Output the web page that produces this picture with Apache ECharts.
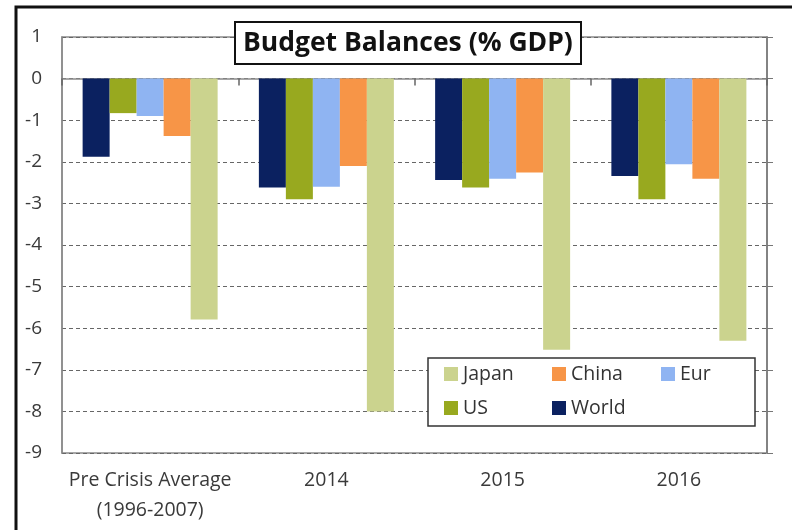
<!DOCTYPE html>
<html>
<head>
<meta charset="utf-8">
<script src="https://cdn.jsdelivr.net/npm/echarts@6/dist/echarts.min.js"></script>
<style>html,body{margin:0;padding:0;background:#fff}#c{width:792px;height:530px}</style>
</head>
<body>
<div id="c"></div>
<script>
const categories = ['Pre Crisis Average\n(1996-2007)', '2014', '2015', '2016'];
const world = [-1.88, -2.62, -2.44, -2.34];
const us = [-0.83, -2.9, -2.62, -2.9];
const eur = [-0.9, -2.6, -2.41, -2.06];
const china = [-1.38, -2.1, -2.26, -2.41];
const japan = [-5.79, -8.0, -6.52, -6.3];
const yTicks = { min: -9, max: 1, interval: 1 };

const FONT = '"Open Sans", Lato, sans-serif';
const colors = { World: '#0b2160', US: '#98a91f', Eur: '#8fb4f2', China: '#f79547', Japan: '#cbd38e' };

const chart = echarts.init(document.getElementById('c'));
function mkSeries(name, data) {
  return { name, type: 'bar', data, barWidth: 27, barGap: '0%', itemStyle: { color: colors[name] }, xAxisIndex: 0, yAxisIndex: 0, z: 2 };
}
const legendPos = [['Japan', 444, 364], ['China', 552, 364], ['Eur', 661, 364], ['US', 444, 398], ['World', 552, 398]];
const gridBox = { left: 62, right: 25, top: 37, bottom: 77, containLabel: false, outerBoundsMode: 'none' };
chart.setOption({
  animation: false,
  backgroundColor: '#fff',
  title: {
    text: 'Budget Balances (% GDP)',
    left: 235, top: 22,
    backgroundColor: '#fff', borderColor: '#111', borderWidth: 2,
    padding: [8, 8, 7, 8],
    textStyle: { fontFamily: FONT, fontSize: 26.5, fontWeight: 'bold', color: '#111' },
    z: 20
  },
  grid: [
    Object.assign({ show: true, borderColor: '#8a8a8a', borderWidth: 1.5 }, gridBox),
    Object.assign({ show: false }, gridBox)
  ],
  xAxis: [
    { type: 'category', data: categories, gridIndex: 0, position: 'bottom',
      axisLine: { show: true, onZero: true, lineStyle: { color: '#8a8a8a', width: 1.5 } },
      axisTick: { show: true, inside: false, interval: 0, length: 7, lineStyle: { color: '#666', width: 1.5 } },
      axisLabel: { show: true, interval: 0, formatter: function () { return ''; } } },
    { type: 'category', data: categories, gridIndex: 1, position: 'bottom',
      axisLine: { show: false, onZero: false }, axisTick: { show: false },
      axisLabel: { interval: 0, fontFamily: FONT, fontSize: 19.5, color: '#3a3a3a', margin: 12, lineHeight: 30 } }
  ],
  yAxis: [
    { type: 'value', gridIndex: 0, min: yTicks.min, max: yTicks.max, interval: yTicks.interval, position: 'left',
      axisLine: { show: true, lineStyle: { color: '#8a8a8a', width: 1.5 } }, axisTick: { show: false },
      axisLabel: { fontFamily: FONT, fontSize: 19, color: '#3a3a3a', margin: 20 },
      splitLine: { show: true, lineStyle: { color: '#666', type: [4, 3], width: 1.2 } } },
    { type: 'value', gridIndex: 0, min: yTicks.min, max: yTicks.max, interval: yTicks.interval, position: 'right',
      axisLine: { show: true, lineStyle: { color: '#777', width: 1.5 } },
      axisTick: { show: true, length: 6, lineStyle: { color: '#777' } },
      axisLabel: { show: false }, splitLine: { show: false } },
    { type: 'value', gridIndex: 1, min: yTicks.min, max: yTicks.max, interval: yTicks.interval, show: false,
      splitLine: { show: false } }
  ],
  legend: legendPos.map(([n, l, t]) => ({
    data: [n], left: l, top: t, itemWidth: 14, itemHeight: 14, itemGap: 5, padding: 0,
    icon: 'rect', z: 12,
    textStyle: { fontFamily: FONT, fontSize: 19.5, color: '#333', padding: [0, 0, 0, 0] }
  })),
  graphic: [
    { type: 'rect', shape: { x: 428, y: 358, width: 327, height: 68 }, style: { fill: '#fff', stroke: '#333', lineWidth: 1.5 }, z: 10 },
    { type: 'rect', shape: { x: 16, y: 7, width: 800, height: 540 }, style: { fill: 'none', stroke: '#111', lineWidth: 3 }, z: 30 }
  ],
  series: [mkSeries('World', world), mkSeries('US', us), mkSeries('Eur', eur), mkSeries('China', china), mkSeries('Japan', japan)]
});
</script>
</body>
</html>
